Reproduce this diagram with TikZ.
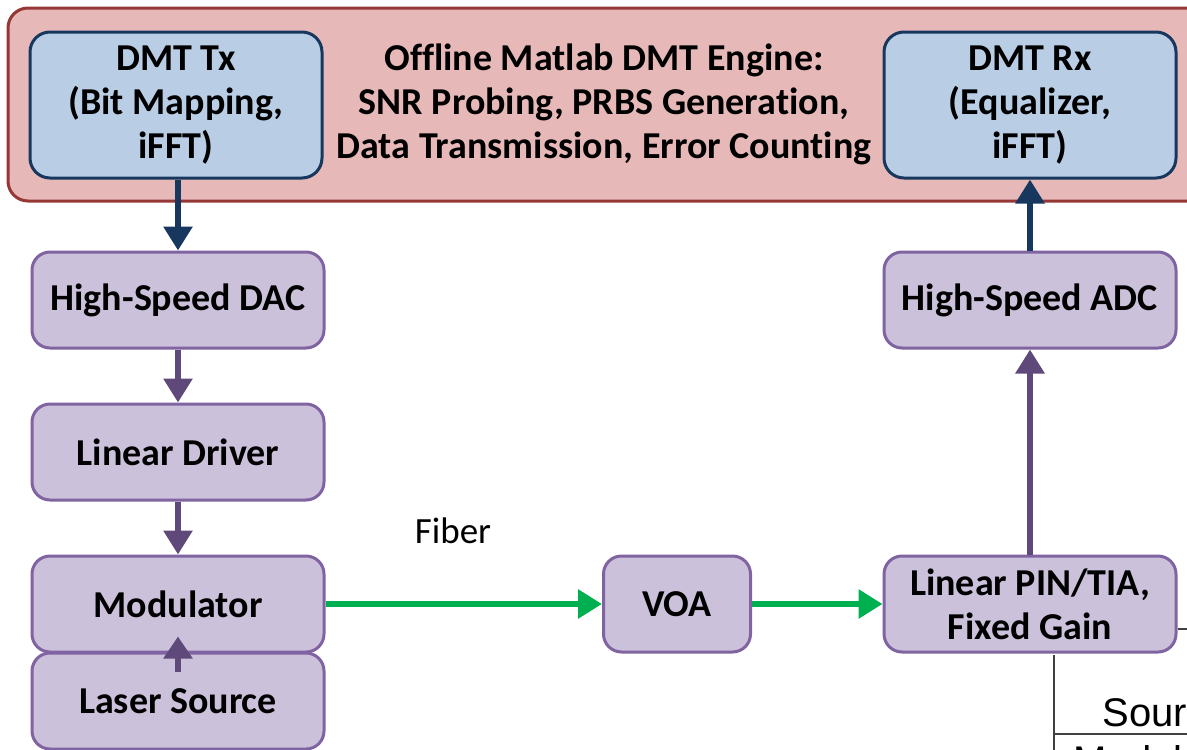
\documentclass[tikz,border=0pt]{standalone}
\usepackage{fontspec}
\setmainfont[Ligatures=NoCommon]{Carlito}
\newfontfamily\tablefont{Liberation Sans}
\usetikzlibrary{arrows.meta,positioning}
\definecolor{enginefill}{RGB}{230,185,184}
\definecolor{engineline}{RGB}{149,55,53}
\definecolor{dspfill}{RGB}{185,205,229}
\definecolor{dspline}{RGB}{23,55,94}
\definecolor{hwfill}{RGB}{204,193,218}
\definecolor{hwline}{RGB}{128,100,162}
\definecolor{hwarrow}{RGB}{95,73,122}
\definecolor{fiber}{RGB}{0,176,80}
\newcommand{\boxfont}{\fontsize{38}{44}\selectfont\bfseries}

\begin{document}
\begin{tikzpicture}[x=1pt, y=-1pt,
    dspbox/.style={draw=dspline, fill=dspfill, line width=3pt, rounded corners=20pt,
        minimum width=292pt, minimum height=146pt, inner sep=0pt, align=center, font=\boxfont},
    hwbox/.style={draw=hwline, fill=hwfill, line width=3pt, rounded corners=18pt,
        minimum width=292pt, minimum height=96pt, inner sep=0pt, align=center, font=\boxfont},
    sig/.style={line width=6pt, -{Triangle[width=28pt,length=24pt]}}
]
    % Frame
    \useasboundingbox (0,0) rectangle (1187,750);
    \clip (0,0) rectangle (1187,750);

    % Offline engine
    \draw[engineline, fill=enginefill, line width=3pt, rounded corners=20pt] (8,8) rectangle (1210,201);
    \node[dspbox] (tx) at (176,105) {DMT Tx\\(Bit Mapping,\\iFFT)};
    \node[dspbox] (rx) at (1030,105) {DMT Rx\\(Equalizer,\\iFFT)};
    \node[align=center, font=\boxfont] (engine) at (604,104)
        {Offline Matlab DMT Engine:\\SNR Probing, PRBS Generation,\\Data Transmission, Error Counting};

    % Transmitter chain
    \node[hwbox] (dac) at (178,300) {High-Speed DAC};
    \node[hwbox] (driver) at (178,452) {Linear Driver};
    \node[hwbox] (mod) at (178,604) {Modulator};
    \node[hwbox] (laser) at (178,701) {Laser Source};

    % Link and receiver
    \node[hwbox, minimum width=147pt] (voa) at (677,604) {VOA};
    \node[hwbox] (pin) at (1030,604) {Linear PIN/TIA,\\Fixed Gain};
    \node[hwbox] (adc) at (1030,300) {High-Speed ADC};
    \node[font=\fontsize{37}{44}\selectfont] (fiberlbl) at (453,531) {Fiber};

    % Arrows
    \draw[sig, dspline] (tx.south -| dac.north) -- (dac.north);
    \draw[sig, hwarrow] (dac) -- (driver);
    \draw[sig, hwarrow] (driver) -- (mod);
    \draw[sig, hwarrow, -{Triangle[width=28pt,length=22pt]}] ([yshift=-20pt]laser.north) -- ([yshift=17pt]mod.south);
    \draw[sig, fiber] (mod) -- (voa);
    \draw[sig, fiber] (voa) -- (pin);
    \draw[sig, hwarrow] (pin) -- (adc);
    \draw[sig, dspline] (adc) -- (rx);

    % Table corner
    \draw[line width=1.5pt, black!75] (1178,629) -- (1190,629);
    \draw[line width=1.5pt, black!75] (1054,655) -- (1054,752);
    \draw[line width=1.5pt, black!75] (1054,734) -- (1190,734);
    \node[font=\tablefont\fontsize{40}{48}\selectfont, anchor=base west] (srclbl) at (1099,726) {Source};
    \node[font=\tablefont\fontsize{40}{48}\selectfont, anchor=base west] (modlbl) at (1070,774) {Modulator};
\end{tikzpicture}
\end{document}
